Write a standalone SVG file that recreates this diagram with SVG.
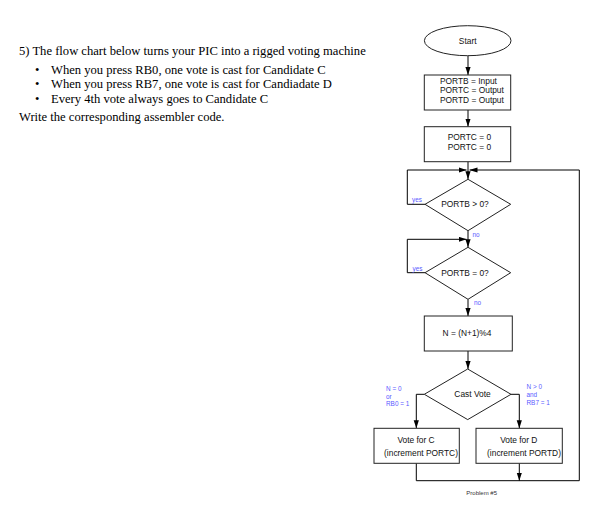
<svg xmlns="http://www.w3.org/2000/svg" width="606" height="517" viewBox="0 0 606 517">
<defs>
<marker id="ah" markerUnits="userSpaceOnUse" markerWidth="8" markerHeight="6" refX="8" refY="2.6" orient="auto">
<path d="M0,0 L8,2.6 L0,5.2 z" fill="#000"/>
</marker>
<style>
.q{font-family:"Liberation Serif","Times New Roman",serif;font-size:12.6px;fill:#000}
.n{font-family:"Liberation Sans",Arial,sans-serif;font-size:8.4px;fill:#111}
.l{font-family:"Liberation Sans",Arial,sans-serif;font-size:6.4px;fill:#5a5aff}
.s{fill:#fff;stroke:#222;stroke-width:1}
.c{fill:none;stroke:#000;stroke-width:1}
.a{marker-end:url(#ah)}
</style>
</defs>
<rect width="606" height="517" fill="#fff"/>
<g id="question">
<text class="q" x="19" y="55">5)  The flow chart below turns your PIC into a rigged voting machine</text>
<text class="q" x="35" y="73.5">•</text>
<text class="q" x="51" y="73.5">When you press RB0, one vote is cast for Candidate C</text>
<text class="q" x="35" y="88">•</text>
<text class="q" x="51" y="88">When you press RB7, one vote is cast for Candiadate D</text>
<text class="q" x="35" y="102.5">•</text>
<text class="q" x="51" y="102.5">Every 4th vote always goes to Candidate C</text>
<text class="q" x="19" y="121">Write the corresponding assembler code.</text>
</g>
<g id="connectors">
<line class="c a" x1="468" y1="55.7" x2="468" y2="75"/>
<line class="c a" x1="468" y1="110" x2="468" y2="126.7"/>
<line class="c a" x1="468" y1="161.7" x2="468" y2="179.3"/>
<polyline class="c a" points="425,204.3 407.3,204.3 407.3,170 466.5,170"/>
<polyline class="c a" points="579.3,480.7 579.3,170 469.5,170"/>
<line class="c a" x1="468" y1="230.7" x2="468" y2="247.3"/>
<polyline class="c a" points="425,272.7 407.3,272.7 407.3,239.3 466.5,239.3"/>
<line class="c a" x1="468" y1="299.3" x2="468" y2="316"/>
<line class="c a" x1="468" y1="351" x2="468" y2="369"/>
<polyline class="c a" points="424.3,394.3 416.3,394.3 416.3,428.3"/>
<polyline class="c a" points="511,394.3 519.3,394.3 519.3,428.3"/>
<polyline class="c" points="416.3,463.3 416.3,480.7 579.3,480.7"/>
<line class="c a" x1="519.3" y1="463.3" x2="519.3" y2="480.7"/>
<text class="l" x="412" y="202">yes</text>
<text class="l" x="472.5" y="237">no</text>
<text class="l" x="412.5" y="270.5">yes</text>
<text class="l" x="474" y="304.5">no</text>
<text class="l" x="386" y="391">N = 0</text>
<text class="l" x="386" y="398.5">or</text>
<text class="l" x="386" y="406">RB0 = 1</text>
<text class="l" x="526.5" y="389">N &gt; 0</text>
<text class="l" x="526.5" y="396.8">and</text>
<text class="l" x="526.5" y="404.5">RB7 = 1</text>
</g>
<g id="start">
<ellipse class="s" cx="467.7" cy="40.7" rx="43.3" ry="15"/>
<text class="n" x="467.7" y="43.5" text-anchor="middle">Start</text>
</g>
<g id="config">
<rect class="s" x="424.3" y="75" width="86.4" height="35"/>
<text class="n" x="440" y="83.5">PORTB = Input</text>
<text class="n" x="440" y="93.2">PORTC = Output</text>
<text class="n" x="440" y="102.9">PORTD = Output</text>
</g>
<g id="clear">
<rect class="s" x="424.3" y="126.7" width="86.4" height="35"/>
<text class="n" x="447.7" y="139.5">PORTC = 0</text>
<text class="n" x="447.7" y="149.5">PORTC = 0</text>
</g>
<g id="check1">
<polygon class="s" points="468,179.3 510.7,204.3 468,230.7 425,204.3"/>
<text class="n" x="465" y="207.2" text-anchor="middle">PORTB &gt; 0?</text>
</g>
<g id="check2">
<polygon class="s" points="468,247.3 510.7,272.7 468,299.3 425,272.7"/>
<text class="n" x="465" y="275.6" text-anchor="middle">PORTB = 0?</text>
</g>
<g id="count">
<rect class="s" x="424.3" y="316" width="88" height="35"/>
<text class="n" x="467" y="335.6" text-anchor="middle">N = (N+1)%4</text>
</g>
<g id="cast">
<polygon class="s" points="467.7,369 511,394.3 467.7,419.6 424.3,394.3"/>
<text class="n" x="472.5" y="397.2" text-anchor="middle">Cast Vote</text>
</g>
<g id="voteC">
<rect class="s" x="374" y="428.3" width="85.3" height="35"/>
<text class="n" x="416" y="443" text-anchor="middle">Vote for C</text>
<text class="n" x="421" y="455.6" text-anchor="middle">(increment PORTC)</text>
</g>
<g id="voteD">
<rect class="s" x="476" y="428.3" width="86.3" height="35"/>
<text class="n" x="518.8" y="443" text-anchor="middle">Vote for D</text>
<text class="n" x="524" y="455.6" text-anchor="middle">(increment PORTD)</text>
</g>
<g id="caption">
<text x="481.7" y="494.8" text-anchor="middle" style="font-family:'Liberation Sans',Arial,sans-serif;font-size:6px;fill:#333">Problem #5</text>
</g>
</svg>
